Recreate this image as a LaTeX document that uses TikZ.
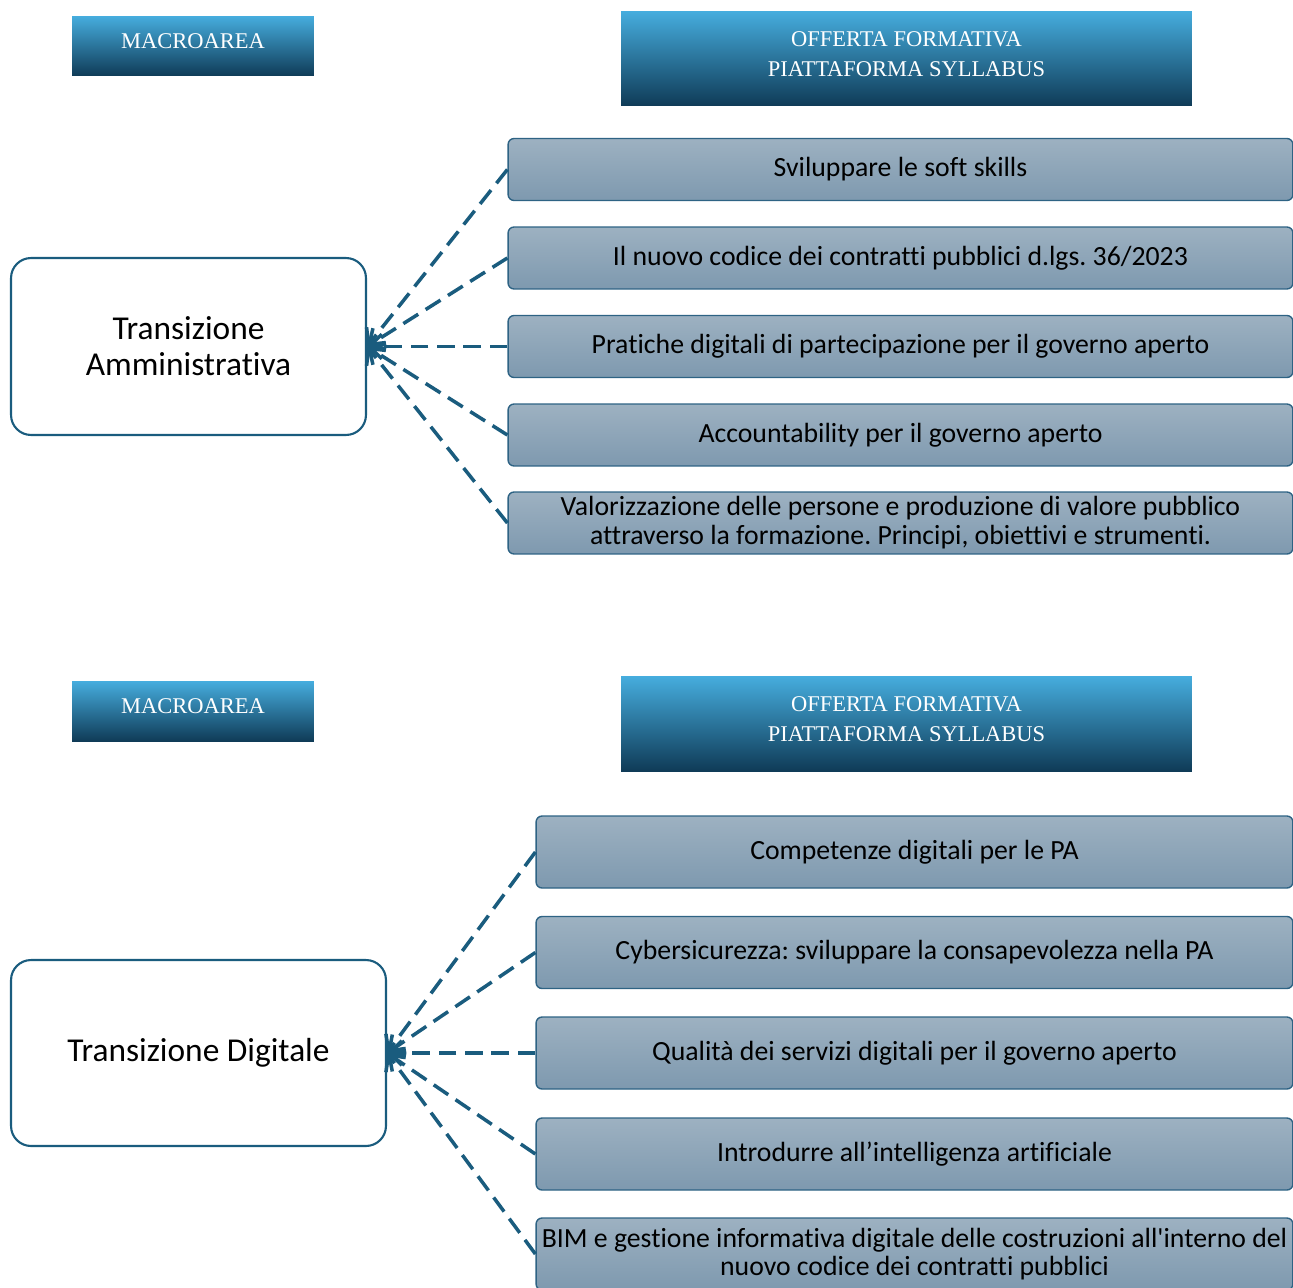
\documentclass[tikz,border=0pt]{standalone}
\usepackage{fontspec}
\setmainfont{Carlito}[Ligatures={CommonOff,TeXOff}]
\newfontfamily\headfont{Liberation Serif}
\usetikzlibrary{arrows.meta}
\frenchspacing
\definecolor{headtop}{HTML}{46ADDE}
\definecolor{headmid}{HTML}{1D6F97}
\definecolor{headbot}{HTML}{0F3B57}
\definecolor{offertop}{HTML}{9DB1C1}
\definecolor{offerbot}{HTML}{7E99AF}
\definecolor{offerline}{HTML}{2E6384}
\definecolor{linkblue}{HTML}{1A5C7E}

\begin{document}
\begin{tikzpicture}[x=0.02cm,y=-0.02cm,
    header/.style={inner sep=0pt, text depth=0.18cm, top color=headtop, middle color=headmid,
        bottom color=headbot, text=white, align=center, font=\headfont\fontsize{12.8}{17.5}\selectfont},
    topic/.style={draw=linkblue, line width=1.2pt, rounded corners=0.4cm, fill=white,
        inner sep=0pt, align=center, font=\fontsize{19}{20.5}\selectfont},
    offer/.style={draw=offerline, line width=0.8pt, rounded corners=0.12cm,
        top color=offertop, bottom color=offerbot, inner sep=0pt, align=center,
        font=\fontsize{15.8}{16.4}\selectfont},
    link/.style={draw=linkblue, line width=2pt, dash pattern=on 10pt off 5pt,
        -{Straight Barb[length=7pt,width=14pt]}}]
    \useasboundingbox (0,0) rectangle (1293,1287);

    % prima macroarea
    \node[header, minimum width=4.84cm, minimum height=1.2cm] (macroA) at (193,46) {MACROAREA};
    \node[header, minimum width=11.42cm, minimum height=1.9cm] (sylA) at (906.5,58.5)
        {OFFERTA FORMATIVA\\PIATTAFORMA SYLLABUS};
    \node[topic, minimum width=7.1cm, minimum height=3.54cm] (amm) at (188.5,346.5)
        {Transizione\\Amministrativa};

    \node[offer, minimum width=15.7cm, minimum height=1.24cm] (a1) at (900.5,169.5)
        {Sviluppare le soft skills};
    \node[offer, minimum width=15.7cm, minimum height=1.24cm] (a2) at (900.5,258)
        {Il nuovo codice dei contratti pubblici d.lgs. 36/2023};
    \node[offer, minimum width=15.7cm, minimum height=1.24cm] (a3) at (900.5,346.5)
        {Pratiche digitali di partecipazione per il governo aperto};
    \node[offer, minimum width=15.7cm, minimum height=1.24cm] (a4) at (900.5,435)
        {Accountability per il governo aperto};
    \node[offer, minimum width=15.7cm, minimum height=1.24cm] (a5) at (900.5,523)
        {Valorizzazione delle persone e produzione di valore pubblico\\attraverso la formazione. Principi, obiettivi e strumenti.};

    \foreach \n in {a1,a2,a3,a4,a5}
        \draw[link] (\n.west) -- (amm.east);

    % seconda macroarea
    \node[header, minimum width=4.84cm, minimum height=1.2cm] (macroB) at (193,711) {MACROAREA};
    \node[header, minimum width=11.42cm, minimum height=1.9cm] (sylB) at (906.5,723.5)
        {OFFERTA FORMATIVA\\PIATTAFORMA SYLLABUS};
    \node[topic, minimum width=7.5cm, minimum height=3.72cm] (dig) at (198.5,1053)
        {Transizione Digitale};

    \node[offer, minimum width=15.14cm, minimum height=1.44cm] (d1) at (914.5,852)
        {Competenze digitali per le PA};
    \node[offer, minimum width=15.14cm, minimum height=1.44cm] (d2) at (914.5,952.5)
        {Cybersicurezza: sviluppare la consapevolezza nella PA};
    \node[offer, minimum width=15.14cm, minimum height=1.44cm] (d3) at (914.5,1053)
        {Qualità dei servizi digitali per il governo aperto};
    \node[offer, minimum width=15.14cm, minimum height=1.44cm] (d4) at (914.5,1154)
        {Introdurre all’intelligenza artificiale};
    \node[offer, minimum width=15.14cm, minimum height=1.44cm] (d5) at (914.5,1254)
        {BIM e gestione informativa digitale delle costruzioni all'interno del\\nuovo codice dei contratti pubblici};

    \foreach \n in {d1,d2,d3,d4,d5}
        \draw[link] (\n.west) -- (dig.east);
\end{tikzpicture}
\end{document}
